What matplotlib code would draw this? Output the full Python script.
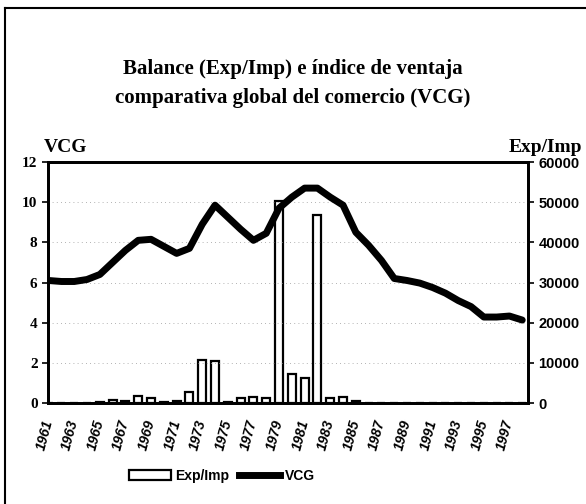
import matplotlib
matplotlib.use("Agg")
import matplotlib.pyplot as plt
import matplotlib.lines as mlines
import matplotlib.patches as mpatches

# data
years = list(range(1961, 1999))
vcg = [6.1, 6.05, 6.05, 6.15, 6.4, 7.0, 7.6, 8.1, 8.15, 7.8,
       7.45, 7.7, 8.9, 9.85, 9.25, 8.65, 8.1, 8.45, 9.7, 10.25,
       10.7, 10.7, 10.25, 9.85, 8.5, 7.85, 7.1, 6.2, 6.1, 5.97,
       5.75, 5.47, 5.1, 4.8, 4.28, 4.28, 4.33, 4.13]
expimp = [0, 0, 0, 0, 300, 700, 500, 1800, 1200, 300,
          400, 2800, 10700, 10500, 200, 1200, 1500, 1200, 50200, 7200,
          6200, 46800, 1200, 1500, 400, 0, 0, 0, 0, 0,
          0, 0, 0, 0, 0, 0, 0, 0]
xlabels = [str(y) for y in years[::2]]
left_ticks = [0, 2, 4, 6, 8, 10, 12]
right_ticks = [0, 10000, 20000, 30000, 40000, 50000, 60000]

serif = "Liberation Serif"
narrow = ["Liberation Sans Narrow", "Liberation Sans", "DejaVu Sans"]

fig = plt.figure(figsize=(5.86, 5.04), dpi=100)
ax = fig.add_axes([48 / 586, 1 - 403 / 504, 480 / 586, 241 / 504])
ax2 = ax.twinx()

# bars on the secondary axis, line on the primary
ax2.bar(years, expimp, width=0.62, color="white", edgecolor="black", linewidth=1.6, zorder=2)
ax.set_zorder(ax2.get_zorder() + 1)
ax.patch.set_visible(False)
ax.plot(years, vcg, color="black", linewidth=5, solid_capstyle="round", solid_joinstyle="round", zorder=3)

ax.set_xlim(1960.95, 1998.45)
ax.set_ylim(0, 12)
ax2.set_ylim(0, 60000)
ax.set_yticks(left_ticks)
ax2.set_yticks(right_ticks)
ax.set_yticklabels([str(t) for t in left_ticks], fontfamily=serif, fontweight="bold", fontsize=11)
ax2.set_yticklabels([str(t) for t in right_ticks], fontfamily=narrow, fontweight="bold", fontsize=10.5)
ax.set_xticks(years[::2])
ax.set_xticklabels(xlabels, rotation=75, rotation_mode="anchor", ha="right", va="center",
                   fontfamily=narrow, fontweight="bold", fontstyle="italic", fontsize=10)
ax.tick_params(axis="x", length=0, pad=12)
ax.tick_params(axis="y", length=4, width=1.2, direction="out")
ax2.tick_params(axis="y", length=4, width=1.2, direction="out")
ax.grid(axis="y", color="#999999", linestyle=(0, (1, 4)), linewidth=0.6)

for a in (ax, ax2):
    for s in a.spines.values():
        s.set_linewidth(2)

fig.text(0.5, 1 - 69 / 504, "Balance (Exp/Imp) e índice de ventaja", ha="center", va="center",
         fontfamily=serif, fontweight="bold", fontsize=15)
fig.text(0.5, 1 - 98 / 504, "comparativa global del comercio (VCG)", ha="center", va="center",
         fontfamily=serif, fontweight="bold", fontsize=15)
fig.text(44 / 586, 1 - 147 / 504, "VCG", ha="left", va="center",
         fontfamily=serif, fontweight="bold", fontsize=14)
fig.text(582 / 586, 1 - 147 / 504, "Exp/Imp", ha="right", va="center",
         fontfamily=serif, fontweight="bold", fontsize=14)

bar_patch = mpatches.Patch(facecolor="white", edgecolor="black", linewidth=1.6, label="Exp/Imp")
line_h = mlines.Line2D([], [], color="black", linewidth=5, label="VCG")
fig.legend(handles=[bar_patch, line_h], loc="center", bbox_to_anchor=(222 / 586, 1 - 476 / 504),
           ncol=2, frameon=False, handlelength=3.0, handleheight=0.7, columnspacing=0.7,
           handletextpad=0.3, prop={"family": narrow, "weight": "bold", "size": 10})

# outer frame of the scanned figure
fig.add_artist(mlines.Line2D([5 / 586, 5 / 586], [0, 1 - 8 / 504], color="black", linewidth=1.5))
fig.add_artist(mlines.Line2D([5 / 586, 1], [1 - 8 / 504, 1 - 8 / 504], color="black", linewidth=1.5))

fig.savefig("out.png", dpi=100)
